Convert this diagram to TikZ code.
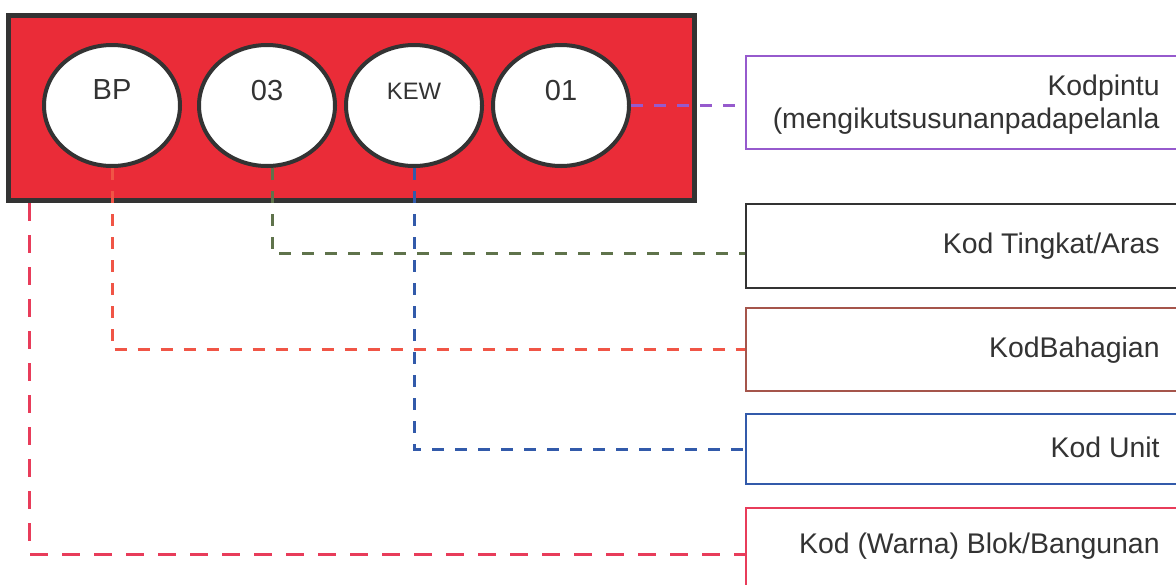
\documentclass[tikz,border=0pt]{standalone}
\usepackage{fontspec}
\setmainfont{Liberation Sans}
\usetikzlibrary{shapes.geometric}
\definecolor{platered}{RGB}{234,44,56}
\definecolor{ink}{RGB}{51,51,51}
\definecolor{pintucol}{RGB}{150,90,205}
\definecolor{tingkatcol}{RGB}{95,115,75}
\definecolor{bahagiancol}{RGB}{240,85,70}
\definecolor{bahagianbox}{RGB}{165,85,75}
\definecolor{unitcol}{RGB}{50,90,170}
\definecolor{blokcol}{RGB}{232,60,90}
\tikzset{
  plate/.style={draw=ink, line width=2.5pt, fill=platered, minimum width=343pt, minimum height=92.5pt, inner sep=0pt},
  slot/.style={ellipse, draw=ink, line width=2pt, fill=white, minimum width=68pt, minimum height=60.5pt, inner sep=0pt},
  slottext/.style={text=ink, anchor=base, inner sep=0pt, font=\fontsize{14.5}{17}\selectfont},
  fieldbox/.style={draw=#1, line width=1pt, fill=white, minimum width=230pt, anchor=north west, inner sep=0pt},
  fieldtext/.style={text=ink, anchor=base east, inner sep=0pt, font=\fontsize{14.2}{17}\selectfont},
  link/.style={draw=#1, line width=1.5pt, dash pattern=on 6pt off 5.5pt}
}
\begin{document}
\begin{tikzpicture}[x=0.5pt, y=-0.5pt]
  \useasboundingbox (0,0) rectangle (1176,584);
  \clip (0,0) rectangle (1176,584);

  \node[plate] (plate) at (351.5,108) {};
  \node[slot] (bp) at (112,105.5) {};
  \node[slot] (e03) at (267,105.5) {};
  \node[slot] (kew) at (414,105.5) {};
  \node[slot] (e01) at (561,105.5) {};
  \node[slottext] (bptext) at (112,99.5) {BP};
  \node[slottext] (e03text) at (267,100.5) {03};
  \node[slottext, font=\fontsize{11.9}{14}\selectfont] (kewtext) at (414,99) {KEW};
  \node[slottext] (e01text) at (561,100) {01};

  \node[fieldbox=pintucol, minimum height=46.5pt] (pintu) at (745,55) {};
  \node[fieldbox=ink, minimum height=42pt] (tingkat) at (745,203) {};
  \node[fieldbox=bahagianbox, minimum height=41.5pt] (bahagian) at (745,307) {};
  \node[fieldbox=unitcol, minimum height=35pt] (unit) at (745,413) {};
  \node[fieldbox=blokcol, minimum height=46.5pt] (blok) at (745,507) {};

  \node[fieldtext] (pintutext) at (1160,95) {Kodpintu};
  \node[fieldtext] (pintunote) at (1160,128) {(mengikutsusunanpadapelanla};
  \node[fieldtext] (tingkattext) at (1160,253) {Kod Tingkat/Aras};
  \node[fieldtext] (bahagiantext) at (1160,357) {KodBahagian};
  \node[fieldtext] (unittext) at (1160,457) {Kod Unit};
  \node[fieldtext] (bloktext) at (1160,553) {Kod (Warna) Blok/Bangunan};

  \coordinate (blokfoot) at ([xshift=11.75pt]plate.south west);
  \draw[link=pintucol] (e01.east) -- (e01.east -| pintu.west);
  \draw[link=tingkatcol] ([xshift=2.5pt]e03.south) |- ([yshift=-3.5pt]tingkat.west);
  \draw[link=bahagiancol] (bp.south) |- (bahagian.west);
  \draw[link=unitcol] (kew.south) |- (unit.west);
  \draw[link=blokcol, line width=1.8pt, dash pattern=on 9pt off 7pt] (blokfoot) |- (blok.west);
\end{tikzpicture}
\end{document}
